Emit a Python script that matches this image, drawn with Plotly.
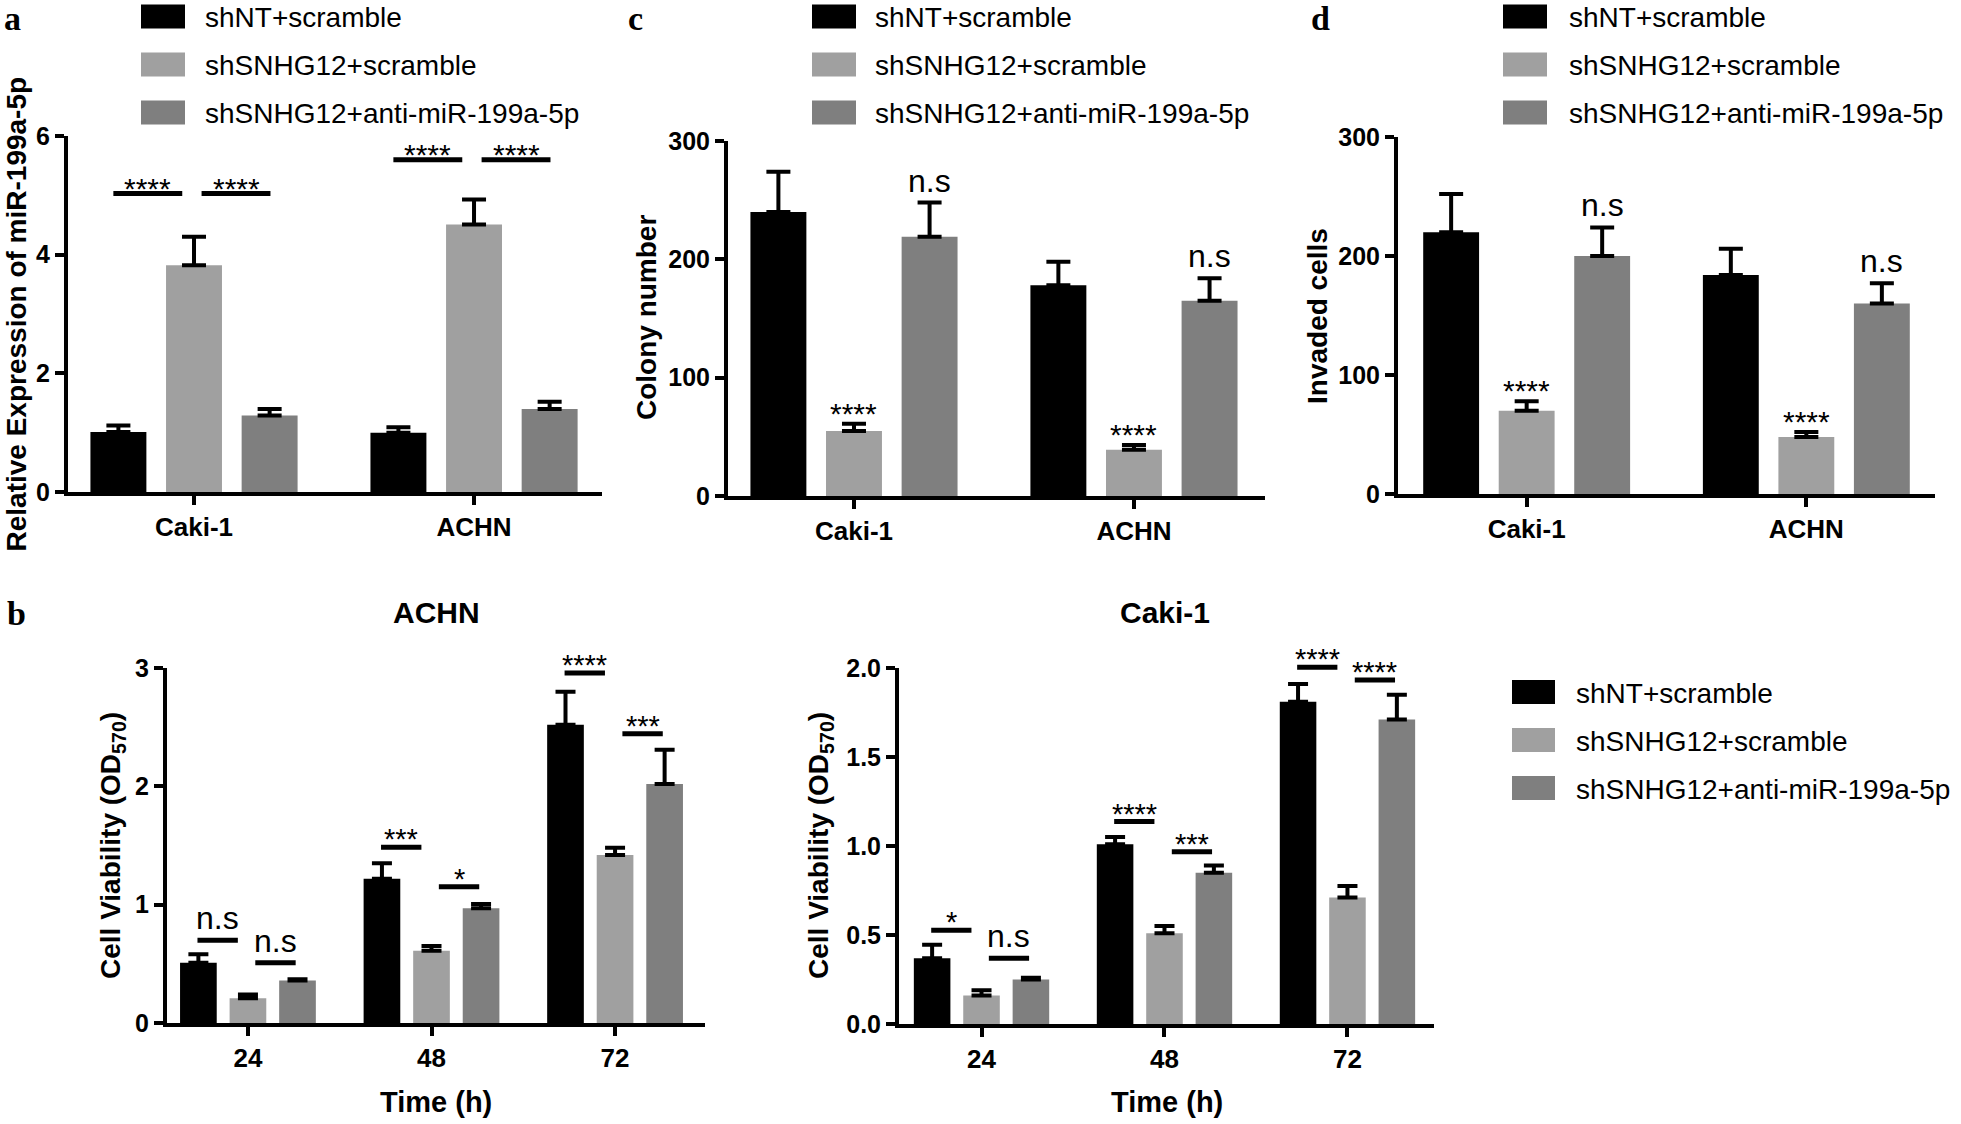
import plotly.graph_objects as go

W, H = 1961, 1124
SANS = "Liberation Sans, Arial, Helvetica, sans-serif"
SERIF = "Liberation Serif, Times New Roman, serif"

# ---------------- data ----------------
series = ["shNT+scramble", "shSNHG12+scramble", "shSNHG12+anti-miR-199a-5p"]
colors = ["#000000", "#a0a0a0", "#7f7f7f"]

# panel a : relative expression of miR-199a-5p
a_cats = ["Caki-1", "ACHN"]
a_nt = [1.01, 1.00]
a_sh = [3.82, 4.51]
a_anti = [1.29, 1.40]
a_nt_err = [0.11, 0.09]
a_sh_err = [0.48, 0.42]
a_anti_err = [0.11, 0.12]
a_sig_y = [[5.03, 5.03], [5.60, 5.60]]
a_sig_lab = [["****", "****"], ["****", "****"]]

# panel c : colony number
c_cats = ["Caki-1", "ACHN"]
c_nt = [240, 178]
c_sh = [55, 39]
c_anti = [219, 165]
c_nt_err = [34, 20]
c_sh_err = [6, 4]
c_anti_err = [29, 19]
c_marks = ["", "****", "n.s"]

# panel d : invaded cells
d_cats = ["Caki-1", "ACHN"]
d_nt = [220, 184]
d_sh = [70, 48]
d_anti = [200, 160]
d_nt_err = [32, 22]
d_sh_err = [8, 4]
d_anti_err = [24, 17]
d_marks = ["", "****", "n.s"]

# panel b : cell viability (OD570)
times = ["24", "48", "72"]
bA_nt = [0.51, 1.22, 2.52]
bA_sh = [0.21, 0.61, 1.42]
bA_anti = [0.36, 0.97, 2.02]
bA_nt_err = [0.07, 0.13, 0.28]
bA_sh_err = [0.03, 0.04, 0.06]
bA_anti_err = [0.01, 0.035, 0.29]
bA_sig_y = [[0.70, 0.51], [1.485, 1.152], [2.958, 2.445]]
bA_sig_lab = [["n.s", "n.s"], ["***", "*"], ["****", "***"]]

bC_nt = [0.37, 1.01, 1.81]
bC_sh = [0.16, 0.51, 0.71]
bC_anti = [0.25, 0.85, 1.71]
bC_nt_err = [0.075, 0.04, 0.10]
bC_sh_err = [0.03, 0.04, 0.065]
bC_anti_err = [0.01, 0.04, 0.14]
bC_sig_y = [[0.527, 0.369], [1.137, 0.967], [2.004, 1.933]]
bC_sig_lab = [["*", "n.s"], ["****", "***"], ["****", "****"]]

# ---------------- layout constants ----------------
BARGAP = 0.19
GROUPGAP = 0.26
SLOT = (1 - BARGAP) / 3
OFFS = [-SLOT, 0.0, SLOT]
SIG_SHIFT = [-0.03, 0.015]
EXTRA = 60  # px of headroom for bracket lines above the axis top


def fx(p):
    return p / W


def fy(p):
    return 1 - p / H


fig = go.Figure()
axes = {}
annotations = []
shapes = []

common = dict(showline=True, linewidth=4, linecolor="black", ticks="outside",
              ticklen=9, tickwidth=4, tickcolor="black", showgrid=False,
              zeroline=False, fixedrange=True, automargin=False)


def setup(idx, pxr, pyr, xr, cats, yr, ytv, ytt):
    xn = "xaxis" if idx == 1 else f"xaxis{idx}"
    yn = "yaxis" if idx == 1 else f"yaxis{idx}"
    xid = "x" if idx == 1 else f"x{idx}"
    yid = "y" if idx == 1 else f"y{idx}"
    axes[xn] = dict(domain=[fx(pxr[0]), fx(pxr[1])], range=list(xr), tickmode="array",
                    tickvals=list(range(len(cats))), ticktext=cats, anchor=yid,
                    tickfont=dict(family=SANS, size=26, color="black", weight="bold"),
                    **common)
    axes[yn] = dict(domain=[fy(pyr[1]), fy(pyr[0])], range=list(yr), tickmode="array",
                    tickvals=ytv, ticktext=ytt, anchor=xid,
                    tickfont=dict(family=SANS, size=25, color="black", weight="bold"),
                    **common)
    return xid, yid


def headroom_axis(idx, xid, pyr, yr):
    # hidden y axis with identical scale but taller domain so brackets are not clipped
    per_px = (yr[1] - yr[0]) / (pyr[1] - pyr[0])
    axes[f"yaxis{idx}"] = dict(domain=[fy(pyr[1]), fy(pyr[0] - EXTRA)],
                               range=[yr[0], yr[1] + EXTRA * per_px],
                               anchor=xid, visible=False, fixedrange=True, automargin=False)
    return f"y{idx}"


def add_bars(xid, yid, cats, means, errs, capw):
    for k in range(3):
        fig.add_trace(go.Bar(
            x=list(range(len(cats))), y=means[k], name=series[k],
            marker=dict(color=colors[k], line=dict(width=0)),
            error_y=dict(type="data", array=errs[k], arrayminus=[0] * len(cats),
                         symmetric=False, color="black", thickness=4, width=capw),
            xaxis=xid, yaxis=yid, showlegend=False, hoverinfo="skip"))


def add_brackets(xid, yline, sig_y, sig_lab, half, star_shift, ns_shift, star_size, ns_size):
    xs, ys = [], []
    for ci, (yy, labs) in enumerate(zip(sig_y, sig_lab)):
        for p in range(2):
            c = ci + (OFFS[p] + OFFS[p + 1]) / 2 + SIG_SHIFT[p]
            xs += [c - half, c + half, None]
            ys += [yy[p], yy[p], None]
            ns = labs[p] == "n.s"
            annotations.append(dict(
                x=c, y=yy[p], xref=xid, yref=yline, text=labs[p], showarrow=False,
                xanchor="center", yanchor="bottom",
                yshift=ns_shift if ns else star_shift,
                font=dict(family=SANS, size=ns_size if ns else star_size, color="black")))
    fig.add_trace(go.Scatter(x=xs, y=ys, mode="lines", line=dict(color="black", width=5),
                             cliponaxis=False, xaxis=xid, yaxis=yline,
                             showlegend=False, hoverinfo="skip"))


def add_marks(xid, yid, means, errs, marks, star_shift, ns_shift):
    for k in range(3):
        if not marks[k]:
            continue
        for ci in range(len(means[k])):
            ns = marks[k] == "n.s"
            annotations.append(dict(
                x=ci + OFFS[k], y=means[k][ci] + errs[k][ci], xref=xid, yref=yid,
                text=marks[k], showarrow=False, xanchor="center", yanchor="bottom",
                yshift=ns_shift if ns else star_shift,
                font=dict(family=SANS, size=32 if ns else 30, color="black")))


def add_legend(sx0, sx1, tx, rows, sw_h):
    for k, ry in enumerate(rows):
        shapes.append(dict(type="rect", xref="paper", yref="paper",
                           x0=fx(sx0), x1=fx(sx1), y0=fy(ry + sw_h / 2), y1=fy(ry - sw_h / 2),
                           fillcolor=colors[k], line=dict(width=0), layer="above"))
        annotations.append(dict(x=fx(tx), y=fy(ry + 1), xref="paper", yref="paper",
                                text=series[k], showarrow=False, xanchor="left",
                                yanchor="middle",
                                font=dict(family=SANS, size=28, color="black")))


def text(px, py, s, size, angle=0, bold=True, family=SANS, xanchor="center"):
    annotations.append(dict(x=fx(px), y=fy(py), xref="paper", yref="paper", text=s,
                            showarrow=False, textangle=angle, xanchor=xanchor,
                            yanchor="middle",
                            font=dict(family=family, size=size, color="black",
                                      weight="bold" if bold else "normal")))


LETTER_Y = 18

# ---- panel a ----
A_PY = (136, 492)
xa, ya = setup(1, (68, 602), A_PY, (-0.45, 1.457), a_cats, (0, 6), [0, 2, 4, 6], ["0", "2", "4", "6"])
ya_h = headroom_axis(6, xa, A_PY, (0, 6))
add_bars(xa, ya, a_cats, [a_nt, a_sh, a_anti], [a_nt_err, a_sh_err, a_anti_err], 12)
add_brackets(xa, ya_h, a_sig_y, a_sig_lab, 0.123, -13, 2, 30, 32)
add_legend(141, 185, 203, [16.5, 64.5, 112.5], 24)
text(15.5, 314, "Relative Expression of miR-199a-5p", 28, angle=-90)
text(2, LETTER_Y, "a", 34, family=SERIF, xanchor="left")

# ---- panel c ----
xc, yc = setup(2, (728, 1265), (141, 496), (-0.45, 1.468), c_cats, (0, 300), [0, 100, 200, 300], ["0", "100", "200", "300"])
add_bars(xc, yc, c_cats, [c_nt, c_sh, c_anti], [c_nt_err, c_sh_err, c_anti_err], 12)
add_marks(xc, yc, [c_nt, c_sh, c_anti], [c_nt_err, c_sh_err, c_anti_err], c_marks, -8, 2)
add_legend(812, 856, 873, [16.5, 64.5, 112.5], 24)
text(647, 318, "Colony number", 28, angle=-90)
text(626, LETTER_Y, "c", 34, family=SERIF, xanchor="left")

# ---- panel d ----
xd, yd = setup(3, (1398, 1935), (137, 494), (-0.46, 1.46), d_cats, (0, 300), [0, 100, 200, 300], ["0", "100", "200", "300"])
add_bars(xd, yd, d_cats, [d_nt, d_sh, d_anti], [d_nt_err, d_sh_err, d_anti_err], 12)
add_marks(xd, yd, [d_nt, d_sh, d_anti], [d_nt_err, d_sh_err, d_anti_err], d_marks, -8, 2)
add_legend(1503, 1547, 1567, [16.5, 64.5, 112.5], 24)
text(1317, 316, "Invaded cells", 28, angle=-90)
text(1309, LETTER_Y, "d", 34, family=SERIF, xanchor="left")

# ---- panel b (ACHN) ----
BA_PY = (668, 1023)
xb1, yb1 = setup(4, (167, 705), BA_PY, (-0.441, 2.49), times, (0, 3), [0, 1, 2, 3], ["0", "1", "2", "3"])
yb1_h = headroom_axis(7, xb1, BA_PY, (0, 3))
add_bars(xb1, yb1, times, [bA_nt, bA_sh, bA_anti], [bA_nt_err, bA_sh_err, bA_anti_err], 10)
add_brackets(xb1, yb1_h, bA_sig_y, bA_sig_lab, 0.11, -10, 2, 29, 32)
text(112, 846, "Cell Viability (OD<sub>570</sub>)", 28, angle=-90)
text(436, 1102, "Time (h)", 29)
text(436, 612, "ACHN", 30)
text(5, 613, "b", 34, family=SERIF, xanchor="left")

# ---- panel b (Caki-1) ----
BC_PY = (668, 1024)
xb2, yb2 = setup(5, (899, 1434), BC_PY, (-0.451, 2.473), times, (0, 2), [0, 0.5, 1, 1.5, 2], ["0.0", "0.5", "1.0", "1.5", "2.0"])
yb2_h = headroom_axis(8, xb2, BC_PY, (0, 2))
add_bars(xb2, yb2, times, [bC_nt, bC_sh, bC_anti], [bC_nt_err, bC_sh_err, bC_anti_err], 10)
add_brackets(xb2, yb2_h, bC_sig_y, bC_sig_lab, 0.11, -10, 2, 29, 32)
text(820, 846, "Cell Viability (OD<sub>570</sub>)", 28, angle=-90)
text(1167, 1102, "Time (h)", 29)
text(1165, 612, "Caki-1", 30)
add_legend(1512, 1555, 1574, [692, 740, 788], 24)

fig.update_layout(
    template="none",
    width=W, height=H, autosize=False,
    margin=dict(l=0, r=0, t=0, b=0, pad=0, autoexpand=False),
    paper_bgcolor="white", plot_bgcolor="rgba(0,0,0,0)",
    barmode="group", bargap=BARGAP, bargroupgap=GROUPGAP,
    showlegend=False,
    font=dict(family=SANS, color="black"),
    annotations=annotations, shapes=shapes,
    **axes,
)

fig.write_html("out.html", config={"displayModeBar": False},
               post_script="document.body.style.margin='0px';")
